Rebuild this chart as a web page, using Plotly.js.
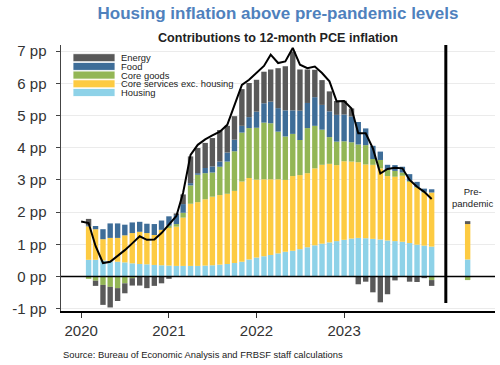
<!DOCTYPE html>
<html>
<head>
<meta charset="utf-8">
<script src="https://cdn.plot.ly/plotly-3.0.1.min.js"></script>
<style>
  html, body { margin: 0; padding: 0; background: #fff; }
  #chart { width: 500px; height: 365px; }
</style>
</head>
<body>
<div id="chart"></div>
<script>
// ---------- DATA ----------
// Bars: monthly contributions, Feb 2020 .. Jan 2024 (48 months)
const housing = [0.52,0.52,0.50,0.47,0.46,0.44,0.41,0.39,0.38,0.36,0.35,0.34,
                 0.33,0.33,0.33,0.33,0.34,0.35,0.37,0.39,0.42,0.46,0.53,0.59,
                 0.63,0.67,0.72,0.77,0.80,0.85,0.91,0.97,1.02,1.06,1.10,1.14,
                 1.18,1.20,1.19,1.17,1.15,1.12,1.10,1.08,1.04,0.99,0.96,0.93];
const coreServices = [1.04,0.95,0.66,0.73,0.74,0.84,0.94,1.00,0.97,0.93,1.10,1.17,
                      1.22,1.50,1.93,1.98,2.06,2.13,2.16,2.18,2.24,2.49,2.53,2.42,
                      2.39,2.35,2.30,2.23,2.32,2.30,2.30,2.39,2.45,2.44,2.36,2.44,
                      2.39,2.35,2.29,2.30,2.21,2.00,2.00,2.05,1.90,1.77,1.65,1.68];
const coreGoods = [-0.07,-0.13,-0.26,-0.32,-0.36,-0.21,-0.05,0.00,0.00,0.00,0.00,0.07,
                   0.08,0.15,0.57,0.85,0.81,0.75,0.88,1.00,1.23,1.52,1.55,1.61,
                   1.76,1.74,1.48,1.35,1.31,1.09,1.40,1.32,1.09,0.83,0.73,0.62,
                   0.60,0.55,0.60,0.18,0.26,0.20,0.18,0.10,0.03,0.02,0.02,-0.11];
const food = [0.03,0.10,0.31,0.45,0.45,0.33,0.33,0.31,0.29,0.34,0.29,0.29,
              0.28,0.27,0.07,0.05,0.16,0.19,0.16,0.28,0.36,0.21,0.34,0.50,
              0.60,0.67,0.73,0.81,0.73,0.91,0.78,0.89,0.77,0.80,0.83,0.83,
              0.80,0.70,0.52,0.41,0.26,0.15,0.18,0.18,0.21,0.16,0.10,0.10];
const energy = [0.20,-0.16,-0.62,-0.64,-0.40,-0.31,-0.23,-0.28,-0.36,-0.29,-0.21,-0.07,
                0.05,0.30,0.83,0.78,0.78,0.88,0.98,0.83,0.73,1.14,1.06,0.99,
                0.98,1.00,1.24,1.37,1.83,1.28,1.04,0.85,0.77,0.62,0.43,0.43,
                0.25,-0.24,-0.16,-0.49,-0.80,-0.55,-0.12,0.00,-0.16,-0.17,-0.05,-0.18];
// Line: headline 12-month PCE inflation, Jan 2020 .. Jan 2024 (49 months)
const headline = [1.71,1.66,0.95,0.42,0.46,0.63,0.82,1.03,1.25,1.14,1.15,1.35,
                  1.60,1.88,2.60,3.78,4.09,4.26,4.38,4.50,4.71,5.33,5.95,6.11,
                  6.32,6.54,6.89,6.63,6.68,7.10,6.58,6.47,6.52,6.32,6.06,5.44,
                  5.45,5.22,4.45,4.45,3.98,3.20,3.34,3.38,3.36,3.00,2.79,2.63,
                  2.41];
// Pre-pandemic average bar: [Housing, Core services, Core goods, Food, Energy]
const prePandemic = [0.53, 1.10, -0.11, 0.00, 0.09];
const prePandemicDate = '2024-05-30';
const dividerDate = '2024-02-29';

const seriesNames = ['Housing','Core services exc. housing','Core goods','Food','Energy'];
const seriesColors = ['#8ED2E8','#FDCB42','#93B655','#3E6D98','#595959'];
const legendOrder = ['Energy','Food','Core goods','Core services exc. housing','Housing'];

const xTickVals = ['2020-01-01','2021-01-01','2022-01-01','2023-01-01'];
const xTickText = ['2020','2021','2022','2023'];
const yTickVals = [-1,0,1,2,3,4,5,6,7];
const yTickText = ['-1 pp','0 pp','1 pp','2 pp','3 pp','4 pp','5 pp','6 pp','7 pp'];

// ---------- BUILD ----------
function monthRange(year, month, n) {
  const out = [];
  for (let k = 0; k < n; k++) {
    const m = month - 1 + k;
    const y = year + Math.floor(m / 12);
    const mm = (m % 12) + 1;
    out.push(y + '-' + String(mm).padStart(2,'0') + '-01');
  }
  return out;
}
const barMonths = monthRange(2020, 2, housing.length);
const lineMonths = monthRange(2020, 1, headline.length);
const barX = barMonths.concat([prePandemicDate]);

const FONT = 'Liberation Sans, Arial, Helvetica, sans-serif';
const seriesData = [housing, coreServices, coreGoods, food, energy];
const barWidthMs = 22.5 * 86400000;

const traces = seriesData.map((vals, idx) => ({
  type: 'bar',
  name: seriesNames[idx],
  x: barX,
  y: vals.concat([prePandemic[idx]]),
  width: barWidthMs,
  marker: { color: seriesColors[idx], line: { width: 0 } },
  hoverinfo: 'skip'
}));
traces.push({
  type: 'scatter',
  mode: 'lines',
  name: 'PCE inflation',
  x: lineMonths,
  y: headline,
  line: { color: '#000000', width: 2 },
  hoverinfo: 'skip'
});

// plot area in pixels (for paper-coordinate helpers)
const PL = 61, PR = 495, PT = 45, PB = 311;
const px2x = (px) => (px - PL) / (PR - PL);
const px2y = (py) => (PB - py) / (PB - PT);

const shapes = [
  { type: 'line', xref: 'paper', yref: 'y', x0: 0, x1: 1, y0: 0, y1: 0,
    line: { color: '#000', width: 1.6 }, layer: 'above' },
  { type: 'line', xref: 'x', yref: 'paper', x0: dividerDate, x1: dividerDate,
    y0: px2y(303), y1: px2y(45), line: { color: '#000', width: 3 }, layer: 'above' }
];
const annotations = [
  { xref: 'paper', yref: 'paper', x: px2x(277.5), y: px2y(38), xanchor: 'center', yanchor: 'middle',
    text: '<b>Contributions to 12-month PCE inflation</b>', showarrow: false,
    font: { family: FONT, size: 12.6, color: '#222' } },
  { xref: 'paper', yref: 'paper', x: 0, y: px2y(354), xanchor: 'left', yanchor: 'middle',
    text: 'Source: Bureau of Economic Analysis and FRBSF staff calculations', showarrow: false,
    font: { family: FONT, size: 9.4, color: '#222' } },
  { xref: 'paper', yref: 'paper', x: px2x(472), y: px2y(197), xanchor: 'center', yanchor: 'middle',
    text: 'Pre-<br>pandemic', showarrow: false, align: 'center',
    font: { family: FONT, size: 9.5, color: '#222' } }
];
// custom legend
const rowCenters = [57.7, 66.4, 75.1, 83.8, 92.5];
legendOrder.forEach((nm, r) => {
  const idx = seriesNames.indexOf(nm);
  const cy = rowCenters[r];
  shapes.push({ type: 'rect', xref: 'paper', yref: 'paper',
    x0: px2x(73), x1: px2x(115), y0: px2y(cy + 4), y1: px2y(cy - 4),
    fillcolor: seriesColors[idx], line: { color: '#ffffff', width: 0.8 }, layer: 'above' });
  annotations.push({ xref: 'paper', yref: 'paper', x: px2x(118.5), y: px2y(cy),
    xanchor: 'left', yanchor: 'middle', text: nm, showarrow: false,
    font: { family: FONT, size: 9.4, color: '#222' } });
});

const layout = {
  width: 500, height: 365,
  margin: { l: PL, r: 500 - PR, t: PT, b: 365 - PB, pad: 0 },
  paper_bgcolor: '#ffffff', plot_bgcolor: '#ffffff',
  barmode: 'relative',
  showlegend: false,
  font: { family: FONT, color: '#222' },
  title: { text: '<b>Housing inflation above pre-pandemic levels</b>',
           font: { family: FONT, size: 17, color: '#4F81BD' },
           xref: 'container', yref: 'container', x: 0.556, xanchor: 'center', y: 1 - 13/365, yanchor: 'middle' },
  xaxis: {
    type: 'date', range: ['2019-10-09', '2024-09-21'],
    tickmode: 'array', tickvals: xTickVals, ticktext: xTickText,
    ticks: 'outside', ticklen: 5, tickwidth: 1, tickcolor: '#333',
    showgrid: false, zeroline: false,
    showline: true, linecolor: '#000', linewidth: 1.5,
    tickfont: { family: FONT, size: 15, color: '#333' }
  },
  yaxis: {
    range: [-1.07, 7.19],
    tickmode: 'array', tickvals: yTickVals, ticktext: yTickText,
    ticks: 'outside', ticklen: 4, tickwidth: 1, tickcolor: '#444',
    showgrid: true, gridcolor: '#ebebeb', gridwidth: 1,
    zeroline: false,
    showline: true, linecolor: '#444', linewidth: 1.5,
    ticklabelstandoff: 6,
    tickfont: { family: FONT, size: 15, color: '#333' }
  },
  shapes: shapes,
  annotations: annotations
};

Plotly.newPlot('chart', traces, layout, { staticPlot: true, displayModeBar: false });
</script>
</body>
</html>
